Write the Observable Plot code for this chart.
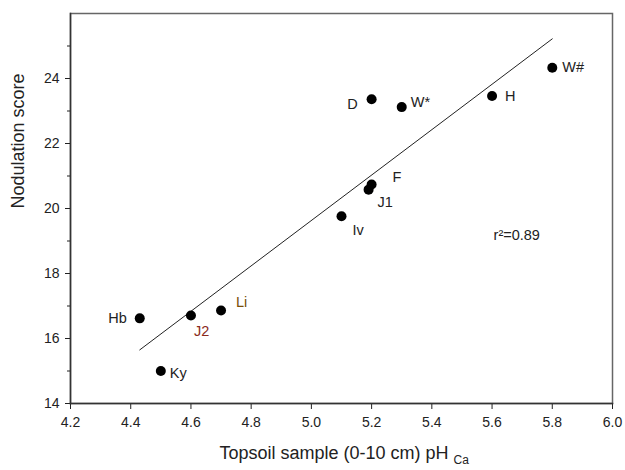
<!DOCTYPE html>
<html>
<head>
<meta charset="utf-8">
<script src="https://cdn.jsdelivr.net/npm/d3@7"></script>
<script src="https://cdn.jsdelivr.net/npm/@observablehq/plot@0.6"></script>
<style>
  html, body { margin: 0; padding: 0; background: #fff; }
  #chart svg { display: block; }
</style>
</head>
<body>
<div id="chart"></div>
<script>
// ---- data ----
const sites  = ["Hb", "J2", "Li", "Ky", "Iv", "J1", "F", "D", "W*", "H", "W#"];
const phCa   = [4.43, 4.60, 4.70, 4.50, 5.10, 5.19, 5.20, 5.20, 5.30, 5.60, 5.80];
const scores = [16.62, 16.71, 16.86, 15.00, 19.76, 20.58, 20.74, 23.36, 23.12, 23.46, 24.33];

const fitX = [4.43, 5.80];
const fitY = [15.65, 25.22];

const xTicks = [4.2, 4.4, 4.6, 4.8, 5.0, 5.2, 5.4, 5.6, 5.8, 6.0];
const yTicks = [14, 16, 18, 20, 22, 24];
const yMinorTicks = [15, 17, 19, 21, 23, 25];

const r2Text = "r²=0.89";
const r2Pos = {x: 5.605, y: 19.17};

const xTitle = "Topsoil sample (0-10 cm) pH";
const xTitleSub = "Ca";
const yTitle = "Nodulation score";

// ---- tables ----
const points = sites.map((s, i) => ({site: s, ph: phCa[i], score: scores[i]}));
const fit = fitX.map((x, i) => ({x, y: fitY[i]}));

// label placement (style)
const labelStyle = {
  "Hb": {dx: -13, dy: 0,  anchor: "end"},
  "J2": {dx: 3,   dy: 16, anchor: "start", fill: "#8a2a1a"},
  "Li": {dx: 15,  dy: -8, anchor: "start", fill: "#7a4e08"},
  "Ky": {dx: 9,   dy: 2,  anchor: "start"},
  "Iv": {dx: 11,  dy: 14, anchor: "start"},
  "J1": {dx: 9,   dy: 13, anchor: "start"},
  "F":  {dx: 21,  dy: -7, anchor: "start"},
  "D":  {dx: -14, dy: 5,  anchor: "end"},
  "W*": {dx: 9,   dy: -5, anchor: "start"},
  "H":  {dx: 13,  dy: 0,  anchor: "start"},
  "W#": {dx: 10,  dy: 0,  anchor: "start"}
};

const ink = "#222";
const labelMarks = points.map(p => {
  const st = labelStyle[p.site];
  return Plot.text([p], {
    x: "ph", y: "score", text: "site",
    dx: st.dx, dy: st.dy, textAnchor: st.anchor,
    fill: st.fill || ink, fontSize: 14.5
  });
});

const chart = Plot.plot({
  width: 625,
  height: 470,
  marginLeft: 70,
  marginRight: 13,
  marginTop: 13,
  marginBottom: 67,
  style: {fontFamily: "'Liberation Sans', Arial, sans-serif", fontSize: "14px", color: ink, background: "#fff"},
  x: {domain: [4.2, 6.0]},
  y: {domain: [14, 26]},
  marks: [
    Plot.frame({stroke: "#666", strokeWidth: 1.5}),
    Plot.axisX({ticks: xTicks, tickFormat: d => d.toFixed(1), tickSize: 6, tickPadding: 8, label: null, fontSize: 14, stroke: ink, fill: ink}),
    Plot.axisY({ticks: yTicks, tickSize: 5, tickPadding: 6, label: null, fontSize: 14, stroke: ink, fill: ink}),
    Plot.axisY({ticks: yMinorTicks, tickSize: 3, text: null, label: null, stroke: ink}),
    Plot.frame({anchor: "left", stroke: "#333", strokeWidth: 1.5}),
    Plot.frame({anchor: "bottom", stroke: "#333", strokeWidth: 1.5}),
    Plot.line(fit, {x: "x", y: "y", stroke: ink, strokeWidth: 1}),
    Plot.dot(points, {x: "ph", y: "score", r: 5, fill: "#000", stroke: "none"}),
    ...labelMarks,
    Plot.text([r2Text], {x: () => r2Pos.x, y: () => r2Pos.y, text: d => d, textAnchor: "start", fontSize: 14.5, fill: ink}),
    Plot.text([yTitle], {frameAnchor: "left", rotate: -90, dx: -52, fontSize: 18, fill: ink}),
    Plot.text([xTitle], {frameAnchor: "bottom-left", dx: 378, dy: 55, textAnchor: "end", fontSize: 18, fill: ink}),
    Plot.text([xTitleSub], {frameAnchor: "bottom-left", dx: 383, dy: 60, textAnchor: "start", fontSize: 12, fill: ink})
  ]
});

document.getElementById("chart").appendChild(chart);
</script>
</body>
</html>
